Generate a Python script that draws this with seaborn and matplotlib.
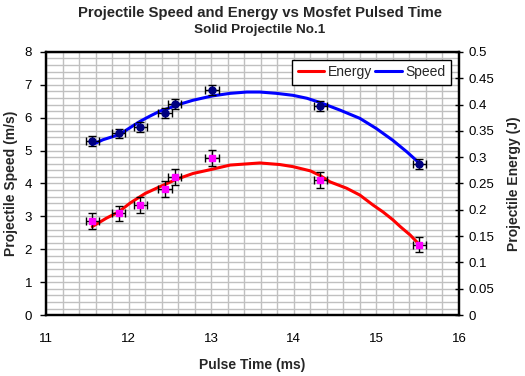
"""
Projectile speed / energy vs MOSFET pulse time, with fitted curves
"""
import numpy as np
import pandas as pd
import matplotlib.pyplot as plt
import seaborn as sns
from matplotlib.ticker import MultipleLocator, FuncFormatter

# ── measured points ──────────────────────────────────────────────────────────
pulse_ms = [11.56, 11.88, 12.14, 12.44, 12.56, 13.01, 14.32, 15.52]
speed_ms = [5.28, 5.52, 5.73, 6.14, 6.41, 6.84, 6.36, 4.58]
energy_j = [0.178, 0.193, 0.209, 0.239, 0.262, 0.298, 0.257, 0.134]
time_err = 0.08
speed_err = 0.15
energy_err = 0.015

# ── fitted curves ────────────────────────────────────────────────────────────
speed_fit_t = [11.56, 11.69, 11.89, 12.02, 12.14, 12.26, 12.38, 12.50,
               12.62, 12.78, 13.01, 13.23, 13.43, 13.59, 13.79, 13.99,
               14.16, 14.32, 14.56, 14.80, 15.00, 15.20, 15.37, 15.52]
speed_fit = [5.18, 5.33, 5.49, 5.70, 5.89, 6.05, 6.20, 6.30,
             6.41, 6.53, 6.66, 6.74, 6.78, 6.78, 6.74, 6.68,
             6.59, 6.46, 6.23, 5.98, 5.67, 5.31, 4.96, 4.62]
energy_fit_t = [11.56, 11.73, 11.88, 12.02, 12.20, 12.38, 12.58, 12.78,
                13.01, 13.23, 13.59, 13.83, 13.99, 14.20, 14.32, 14.44,
                14.64, 14.80, 14.96, 15.08, 15.20, 15.29, 15.41, 15.52]
energy_fit = [0.168, 0.184, 0.196, 0.213, 0.231, 0.244, 0.258, 0.269,
              0.277, 0.285, 0.289, 0.286, 0.282, 0.274, 0.265, 0.253,
              0.241, 0.228, 0.209, 0.196, 0.181, 0.168, 0.152, 0.134]

sns.set_style("white")
plt.rcParams["font.family"] = ["Liberation Sans", "DejaVu Sans"]

fig = plt.figure(figsize=(5.25, 3.76), dpi=100)
ax = fig.add_axes([0.0876, 0.162, 0.7866, 0.700])
ax2 = ax.twinx()

# grid on primary axis
ax.set_xlim(11, 16)
ax.set_ylim(0, 8)
ax.xaxis.set_major_locator(MultipleLocator(1))
ax.xaxis.set_minor_locator(MultipleLocator(0.2))
ax.yaxis.set_major_locator(MultipleLocator(1))
ax.yaxis.set_minor_locator(MultipleLocator(0.2))
ax.grid(True, which="both", color="#C0C0C0", lw=1)
ax.set_axisbelow(True)

# speed
sns.lineplot(x=speed_fit_t, y=speed_fit, ax=ax, color="blue", lw=2.2,
             label="Speed", legend=False)
ax.errorbar(pulse_ms, speed_ms, xerr=time_err, yerr=speed_err, fmt="o",
            color="#000080", ms=5, ecolor="black", elinewidth=1, capsize=3,
            capthick=1, zorder=4)

# energy
ax2.set_ylim(0, 0.5)
ax2.yaxis.set_major_locator(MultipleLocator(0.05))
ax2.yaxis.set_major_formatter(FuncFormatter(lambda v, p: f"{v:g}"))
sns.lineplot(x=energy_fit_t, y=energy_fit, ax=ax2, color="red", lw=2.2,
             label="Energy", legend=False)
ax2.errorbar(pulse_ms, energy_j, xerr=time_err, yerr=energy_err, fmt="s",
             color="magenta", ms=5, ecolor="black", elinewidth=1, capsize=3,
             capthick=1, zorder=4)
ax2.grid(False)

for a in (ax, ax2):
    for s in a.spines.values():
        s.set_color("black")
        s.set_linewidth(1.6)
ax.tick_params(axis="both", which="major", direction="out", length=4,
               width=1, labelsize=9.5, colors="black", pad=6)
ax.tick_params(which="minor", length=0)
ax.tick_params(axis="x", pad=9)
ax2.tick_params(axis="y", direction="inout", length=6, width=1,
                labelsize=9.5, colors="black", pad=4)

ax.set_xlabel("Pulse Time (ms)", fontsize=10, fontweight="bold", labelpad=9)
ax.set_ylabel("Projectile Speed (m/s)", fontsize=10, fontweight="bold")
ax.yaxis.set_label_coords(-0.068, 0.5)
ax2.set_ylabel("Projectile Energy (J)", fontsize=10, fontweight="bold",
               labelpad=9)

handles = [ax2.get_lines()[0], ax.get_lines()[0]]
ax2.legend(handles, ["Energy", "Speed"], loc="upper right",
           bbox_to_anchor=(0.98, 0.97), borderaxespad=0, ncol=2,
           fontsize=10, frameon=True, fancybox=False, edgecolor="black",
           framealpha=1, handlelength=1.9, columnspacing=0.25,
           handletextpad=0.25, borderpad=0.4)

fig.text(0.495, 0.966, "Projectile Speed and Energy vs Mosfet Pulsed Time",
         ha="center", va="center", fontsize=10.7, fontweight="bold")
fig.text(0.495, 0.92, "Solid Projectile No.1", ha="center", va="center",
         fontsize=9.7, fontweight="bold")

fig.savefig("out.png", dpi=100)
